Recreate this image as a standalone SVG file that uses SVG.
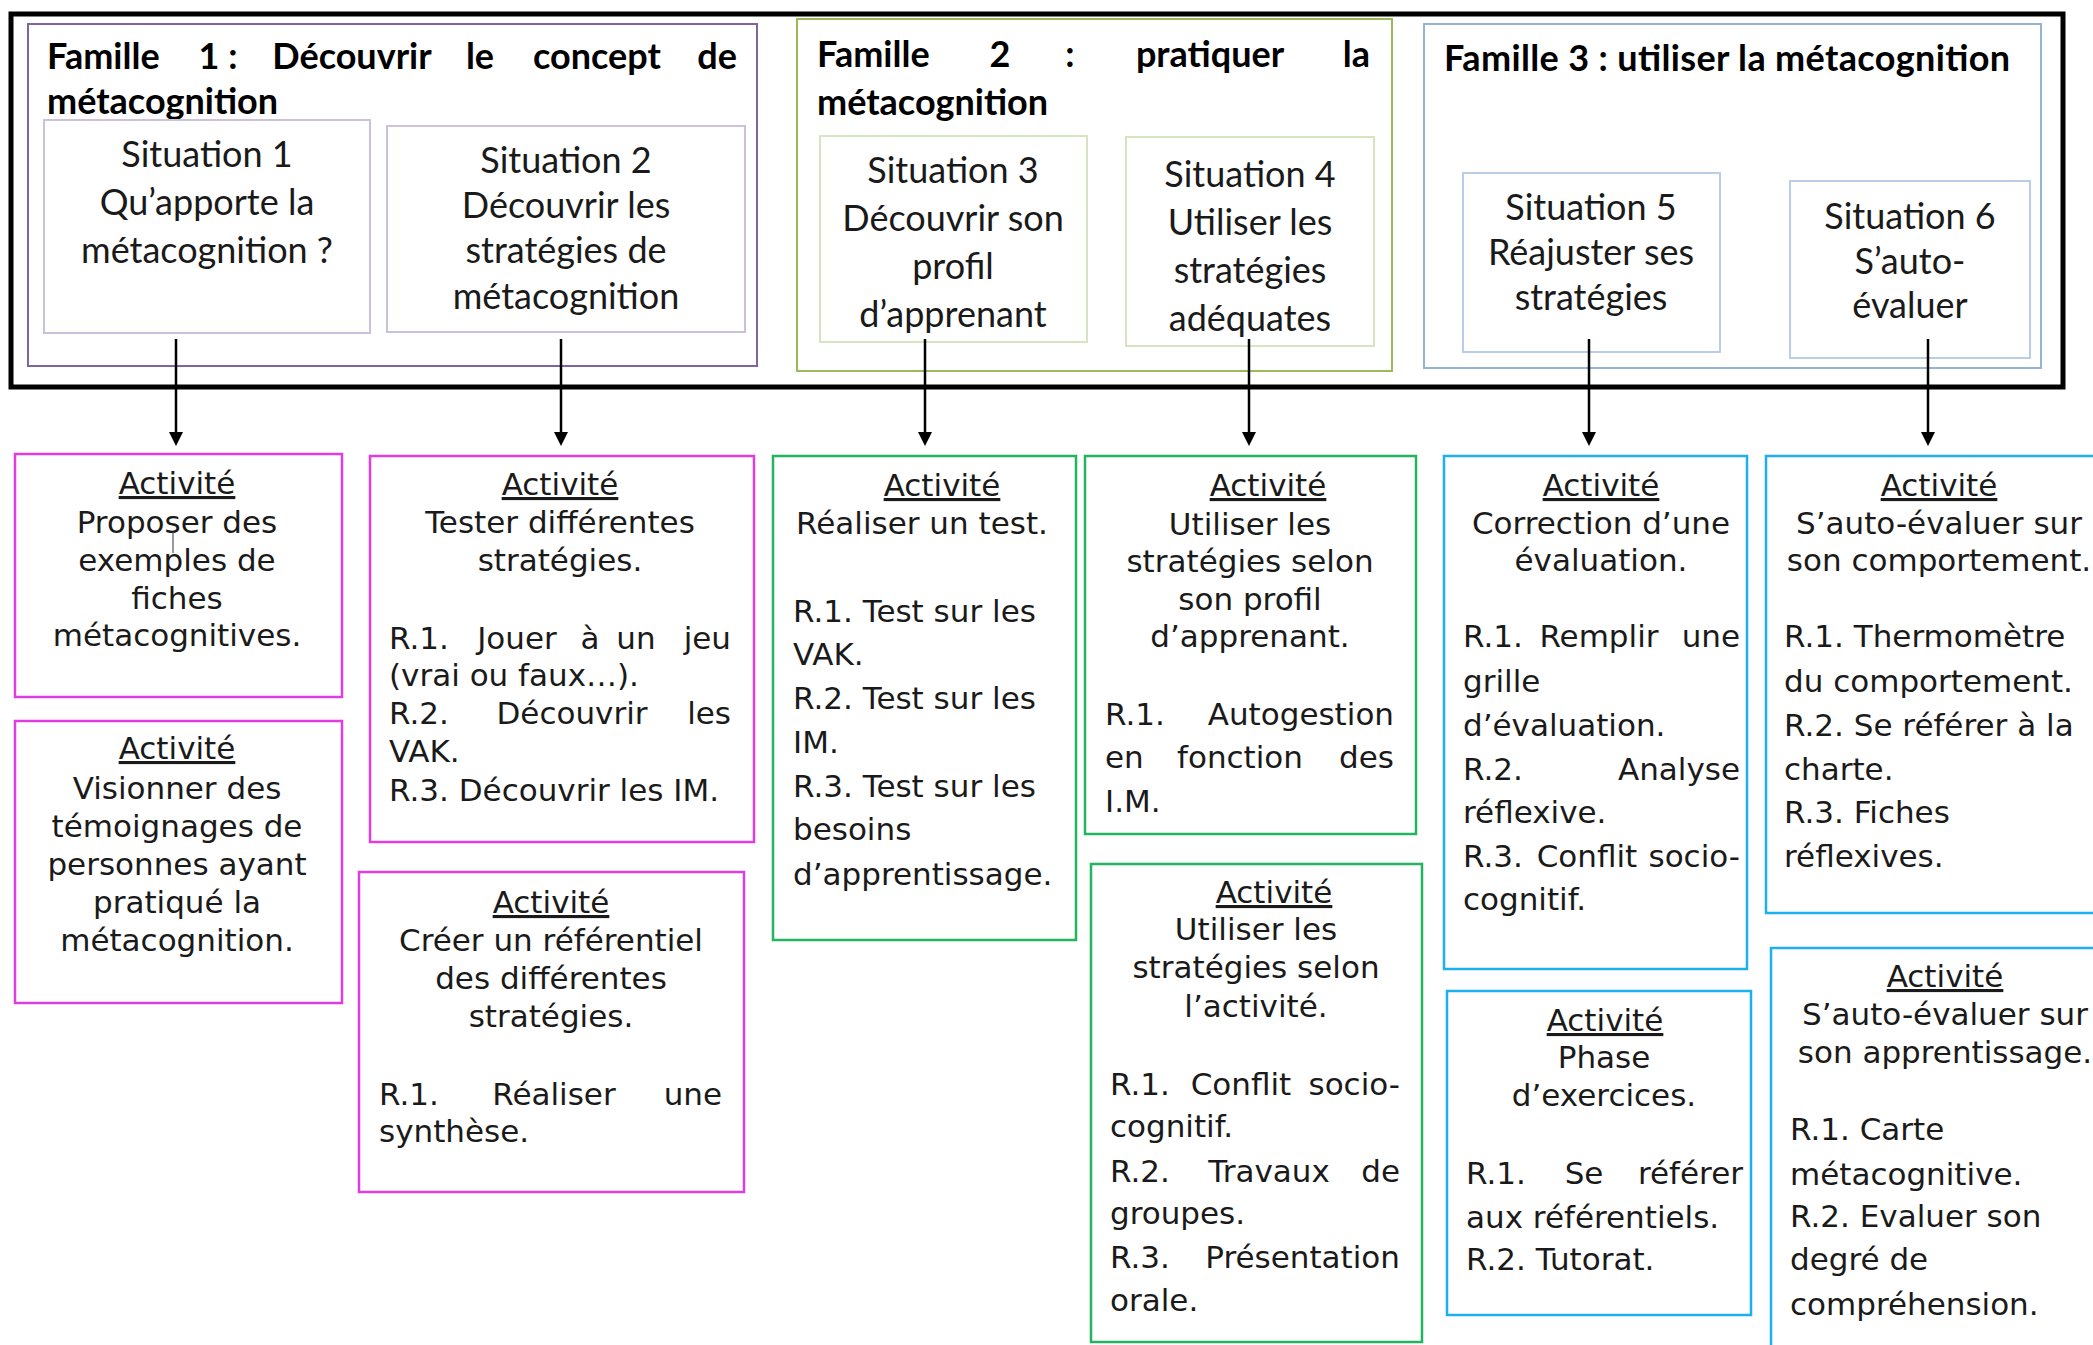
<svg xmlns="http://www.w3.org/2000/svg" width="2093" height="1345" viewBox="0 0 2093 1345">
<defs>
<style>
.outer{fill:none;stroke:#000;stroke-width:5}
.box{fill:none;stroke-width:2}
.f1{stroke:#8064A2}.f2{stroke:#9BBB59}.f3{stroke:#95B3D7}
.s1{stroke:#CCC0DA}.s2{stroke:#D7E4BD}.s3{stroke:#B9CDE5}
.act{fill:none;stroke-width:2.5}
.m{stroke:#E03CE0}.g{stroke:#22B45E}.cy{stroke:#1CB0EE}
.t{font-family:"DejaVu Sans",Verdana,sans-serif;font-size:31px;fill:#1a1a1a}
.sit{font-family:Lato,"Open Sans",sans-serif;font-size:36px;fill:#1a1a1a;text-anchor:middle}
.hd{font-family:Lato,"Open Sans",sans-serif;font-weight:700;font-size:36px;fill:#000}
.c{text-anchor:middle}.e{text-anchor:end}
.u{text-decoration:underline}
.con{stroke:#000;stroke-width:2.5;fill:none}
</style>
<marker id="arr" viewBox="0 -7 14 14" refX="0" refY="0" markerWidth="14" markerHeight="14" markerUnits="userSpaceOnUse" orient="auto">
<path d="M0,-7 L14,0 L0,7 z" fill="#000"/>
</marker>
</defs>
<rect width="2093" height="1345" fill="#fff"/>

<rect id="cadre" class="outer" x="11" y="14" width="2052" height="373"/>

<g id="famille1">
<rect class="box f1" x="28" y="24" width="729" height="342"/>
<text class="hd" y="69"><tspan x="47">Famille</tspan><tspan x="218" text-anchor="middle">1 :</tspan><tspan x="352" text-anchor="middle">Découvrir</tspan><tspan x="480" text-anchor="middle">le</tspan><tspan x="597" text-anchor="middle">concept</tspan><tspan x="737" text-anchor="end">de</tspan></text>
<text class="hd" x="47" y="114">métacognition</text>
</g>
<g id="situation1">
<rect class="box s1" x="44" y="120" width="326" height="213"/>
<text class="sit" x="207" y="167">Situation 1</text>
<text class="sit" x="207" y="215">Qu’apporte la</text>
<text class="sit" x="207" y="263">métacognition ?</text>
</g>
<g id="situation2">
<rect class="box s1" x="387" y="126" width="358" height="206"/>
<text class="sit" x="566" y="173">Situation 2</text>
<text class="sit" x="566" y="218">Découvrir les</text>
<text class="sit" x="566" y="263">stratégies de</text>
<text class="sit" x="566" y="309">métacognition</text>
</g>

<g id="famille2">
<rect class="box f2" x="797" y="19" width="595" height="352"/>
<text class="hd" y="67"><tspan x="817">Famille</tspan><tspan x="1000" text-anchor="middle">2</tspan><tspan x="1070" text-anchor="middle">:</tspan><tspan x="1210" text-anchor="middle">pratiquer</tspan><tspan x="1370" text-anchor="end">la</tspan></text>
<text class="hd" x="817" y="115">métacognition</text>
</g>
<g id="situation3">
<rect class="box s2" x="820" y="136" width="267" height="206"/>
<text class="sit" x="953" y="183">Situation 3</text>
<text class="sit" x="953" y="231">Découvrir son</text>
<text class="sit" x="953" y="279">profil</text>
<text class="sit" x="953" y="327">d’apprenant</text>
</g>
<g id="situation4">
<rect class="box s2" x="1126" y="137" width="248" height="209"/>
<text class="sit" x="1250" y="187">Situation 4</text>
<text class="sit" x="1250" y="235">Utiliser les</text>
<text class="sit" x="1250" y="283">stratégies</text>
<text class="sit" x="1250" y="331">adéquates</text>
</g>

<g id="famille3">
<rect class="box f3" x="1424" y="24" width="617" height="344"/>
<text class="hd" x="1444" y="71" textLength="566" lengthAdjust="spacing">Famille 3 : utiliser la métacognition</text>
</g>
<g id="situation5">
<rect class="box s3" x="1463" y="173" width="257" height="179"/>
<text class="sit" x="1591" y="220">Situation 5</text>
<text class="sit" x="1591" y="265">Réajuster ses</text>
<text class="sit" x="1591" y="310">stratégies</text>
</g>
<g id="situation6">
<rect class="box s3" x="1790" y="181" width="240" height="177"/>
<text class="sit" x="1910" y="229">Situation 6</text>
<text class="sit" x="1910" y="274">S’auto-</text>
<text class="sit" x="1910" y="318">évaluer</text>
</g>

<g id="connecteurs">
<line class="con" x1="176" y1="339" x2="176" y2="432" marker-end="url(#arr)"/>
<line class="con" x1="561" y1="339" x2="561" y2="432" marker-end="url(#arr)"/>
<line class="con" x1="925" y1="339" x2="925" y2="432" marker-end="url(#arr)"/>
<line class="con" x1="1249" y1="339" x2="1249" y2="432" marker-end="url(#arr)"/>
<line class="con" x1="1589" y1="339" x2="1589" y2="432" marker-end="url(#arr)"/>
<line class="con" x1="1928" y1="339" x2="1928" y2="432" marker-end="url(#arr)"/>
</g>

<g id="activite1">
<rect class="act m" x="15" y="454" width="327" height="243"/>
<text class="t c u" x="177" y="494">Activité</text>
<text class="t c" x="177" y="533">Proposer des</text>
<text class="t c" x="177" y="571">exemples de</text>
<text class="t c" x="177" y="609">fiches</text>
<text class="t c" x="177" y="646">métacognitives.</text>
<line x1="173" y1="532" x2="173" y2="553" stroke="#555" stroke-width="1.2"/>
</g>
<g id="activite2">
<rect class="act m" x="15" y="721" width="327" height="282"/>
<text class="t c u" x="177" y="759">Activité</text>
<text class="t c" x="177" y="799">Visionner des</text>
<text class="t c" x="177" y="837">témoignages de</text>
<text class="t c" x="177" y="875">personnes ayant</text>
<text class="t c" x="177" y="913">pratiqué la</text>
<text class="t c" x="177" y="951">métacognition.</text>
</g>
<g id="activite3">
<rect class="act m" x="370" y="456" width="384" height="386"/>
<text class="t c u" x="560" y="495">Activité</text>
<text class="t c" x="560" y="533">Tester différentes</text>
<text class="t c" x="560" y="571">stratégies.</text>
<text class="t" y="649"><tspan x="389">R.1.</tspan><tspan x="517" text-anchor="middle">Jouer</tspan><tspan x="590" text-anchor="middle">à</tspan><tspan x="636" text-anchor="middle">un</tspan><tspan x="731" text-anchor="end">jeu</tspan></text>
<text class="t" x="389" y="686">(vrai ou faux…).</text>
<text class="t" y="724"><tspan x="389">R.2.</tspan><tspan x="572" text-anchor="middle">Découvrir</tspan><tspan x="731" text-anchor="end">les</tspan></text>
<text class="t" x="389" y="762">VAK.</text>
<text class="t" x="389" y="801">R.3. Découvrir les IM.</text>
</g>
<g id="activite4">
<rect class="act m" x="359" y="872" width="385" height="320"/>
<text class="t c u" x="551" y="913">Activité</text>
<text class="t c" x="551" y="951">Créer un référentiel</text>
<text class="t c" x="551" y="989">des différentes</text>
<text class="t c" x="551" y="1027">stratégies.</text>
<text class="t" y="1105"><tspan x="379">R.1.</tspan><tspan x="554" text-anchor="middle">Réaliser</tspan><tspan x="722" text-anchor="end">une</tspan></text>
<text class="t" x="379" y="1142">synthèse.</text>
</g>

<g id="activite5">
<rect class="act g" x="773" y="456" width="303" height="484"/>
<text class="t c u" x="942" y="496">Activité</text>
<text class="t c" x="922" y="534">Réaliser un test.</text>
<text class="t" x="793" y="622">R.1. Test sur les</text>
<text class="t" x="793" y="665">VAK.</text>
<text class="t" x="793" y="709">R.2. Test sur les</text>
<text class="t" x="793" y="753">IM.</text>
<text class="t" x="793" y="797">R.3. Test sur les</text>
<text class="t" x="793" y="840">besoins</text>
<text class="t" x="793" y="885">d’apprentissage.</text>
</g>
<g id="activite6">
<rect class="act g" x="1085" y="456" width="331" height="378"/>
<text class="t c u" x="1268" y="496">Activité</text>
<text class="t c" x="1250" y="535">Utiliser les</text>
<text class="t c" x="1250" y="572">stratégies selon</text>
<text class="t c" x="1250" y="610">son profil</text>
<text class="t c" x="1250" y="647">d’apprenant.</text>
<text class="t" y="725"><tspan x="1105">R.1.</tspan><tspan x="1394" text-anchor="end">Autogestion</tspan></text>
<text class="t" y="768"><tspan x="1105">en</tspan><tspan x="1240" text-anchor="middle">fonction</tspan><tspan x="1394" text-anchor="end">des</tspan></text>
<text class="t" x="1105" y="812">I.M.</text>
</g>
<g id="activite7">
<rect class="act g" x="1091" y="864" width="331" height="478"/>
<text class="t c u" x="1274" y="903">Activité</text>
<text class="t c" x="1256" y="940">Utiliser les</text>
<text class="t c" x="1256" y="978">stratégies selon</text>
<text class="t c" x="1256" y="1017">l’activité.</text>
<text class="t" y="1095"><tspan x="1110">R.1.</tspan><tspan x="1241" text-anchor="middle">Conflit</tspan><tspan x="1400" text-anchor="end">socio-</tspan></text>
<text class="t" x="1110" y="1137">cognitif.</text>
<text class="t" y="1182"><tspan x="1110">R.2.</tspan><tspan x="1269" text-anchor="middle">Travaux</tspan><tspan x="1400" text-anchor="end">de</tspan></text>
<text class="t" x="1110" y="1224">groupes.</text>
<text class="t" y="1268"><tspan x="1110">R.3.</tspan><tspan x="1400" text-anchor="end">Présentation</tspan></text>
<text class="t" x="1110" y="1311">orale.</text>
</g>

<g id="activite8">
<rect class="act cy" x="1444" y="456" width="303" height="513"/>
<text class="t c u" x="1601" y="496">Activité</text>
<text class="t c" x="1601" y="534">Correction d’une</text>
<text class="t c" x="1601" y="571">évaluation.</text>
<text class="t" y="647"><tspan x="1463">R.1.</tspan><tspan x="1599" text-anchor="middle">Remplir</tspan><tspan x="1740" text-anchor="end">une</tspan></text>
<text class="t" x="1463" y="692">grille</text>
<text class="t" x="1463" y="736">d’évaluation.</text>
<text class="t" y="780"><tspan x="1463">R.2.</tspan><tspan x="1740" text-anchor="end">Analyse</tspan></text>
<text class="t" x="1463" y="823">réflexive.</text>
<text class="t" y="867"><tspan x="1463">R.3.</tspan><tspan x="1587" text-anchor="middle">Conflit</tspan><tspan x="1740" text-anchor="end">socio-</tspan></text>
<text class="t" x="1463" y="910">cognitif.</text>
</g>
<g id="activite9">
<rect class="act cy" x="1447" y="991" width="304" height="324"/>
<text class="t c u" x="1605" y="1031">Activité</text>
<text class="t c" x="1604" y="1068">Phase</text>
<text class="t c" x="1604" y="1106">d’exercices.</text>
<text class="t" y="1184"><tspan x="1466">R.1.</tspan><tspan x="1584" text-anchor="middle">Se</tspan><tspan x="1743" text-anchor="end">référer</tspan></text>
<text class="t" x="1466" y="1228">aux référentiels.</text>
<text class="t" x="1466" y="1270">R.2. Tutorat.</text>
</g>
<g id="activite10">
<rect class="act cy" x="1766" y="456" width="340" height="457"/>
<text class="t c u" x="1939" y="496">Activité</text>
<text class="t c" x="1939" y="534">S’auto-évaluer sur</text>
<text class="t c" x="1939" y="571">son comportement.</text>
<text class="t" x="1784" y="647">R.1. Thermomètre</text>
<text class="t" x="1784" y="692">du comportement.</text>
<text class="t" x="1784" y="736">R.2. Se référer à la</text>
<text class="t" x="1784" y="780">charte.</text>
<text class="t" x="1784" y="823">R.3. Fiches</text>
<text class="t" x="1784" y="867">réflexives.</text>
</g>
<g id="activite11">
<rect class="act cy" x="1771" y="948" width="340" height="420"/>
<text class="t c u" x="1945" y="987">Activité</text>
<text class="t c" x="1945" y="1025">S’auto-évaluer sur</text>
<text class="t c" x="1945" y="1063">son apprentissage.</text>
<text class="t" x="1790" y="1140">R.1. Carte</text>
<text class="t" x="1790" y="1185">métacognitive.</text>
<text class="t" x="1790" y="1227">R.2. Evaluer son</text>
<text class="t" x="1790" y="1270">degré de</text>
<text class="t" x="1790" y="1315">compréhension.</text>
</g>
</svg>
